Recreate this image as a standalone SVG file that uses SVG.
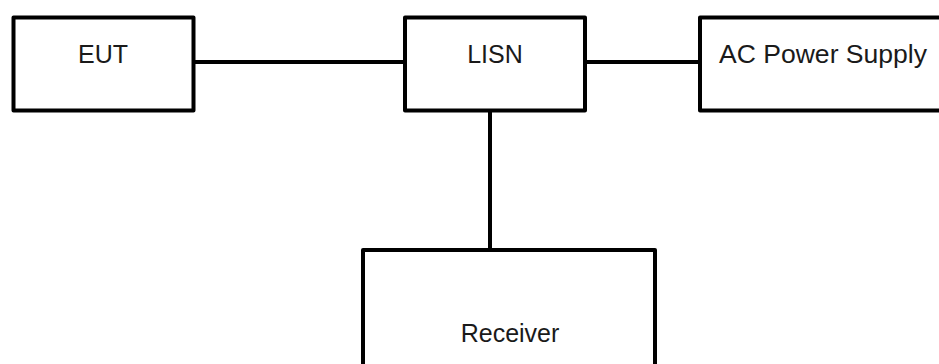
<svg xmlns="http://www.w3.org/2000/svg" width="939" height="364" viewBox="0 0 939 364">
<style>
.box{fill:#fff;stroke:#000;stroke-width:4;stroke-linejoin:round}
.lbl{font-family:"Liberation Sans",Arial,sans-serif;font-size:25px;fill:#1a1a1a;text-anchor:middle}
.wire{stroke:#000;stroke-width:4;fill:none}
</style>
<rect width="939" height="364" fill="#fff"/>
<g id="connectors">
<line class="wire" x1="193" y1="62" x2="405" y2="62"/>
<line class="wire" x1="585" y1="62" x2="700" y2="62"/>
<line class="wire" x1="490" y1="110" x2="490" y2="250"/>
</g>
<g id="eut">
<rect class="box" x="13.5" y="17.5" width="180" height="93"/>
<text class="lbl" x="103" y="63">EUT</text>
</g>
<g id="lisn">
<rect class="box" x="405" y="17.5" width="180" height="93"/>
<text class="lbl" x="495" y="63">LISN</text>
</g>
<g id="ac">
<rect class="box" x="700" y="17.5" width="260" height="93"/>
<text class="lbl" x="823" y="63" textLength="208" lengthAdjust="spacingAndGlyphs">AC Power Supply</text>
</g>
<g id="receiver">
<rect class="box" x="363" y="250" width="292" height="130"/>
<text class="lbl" x="510" y="342">Receiver</text>
</g>
</svg>
